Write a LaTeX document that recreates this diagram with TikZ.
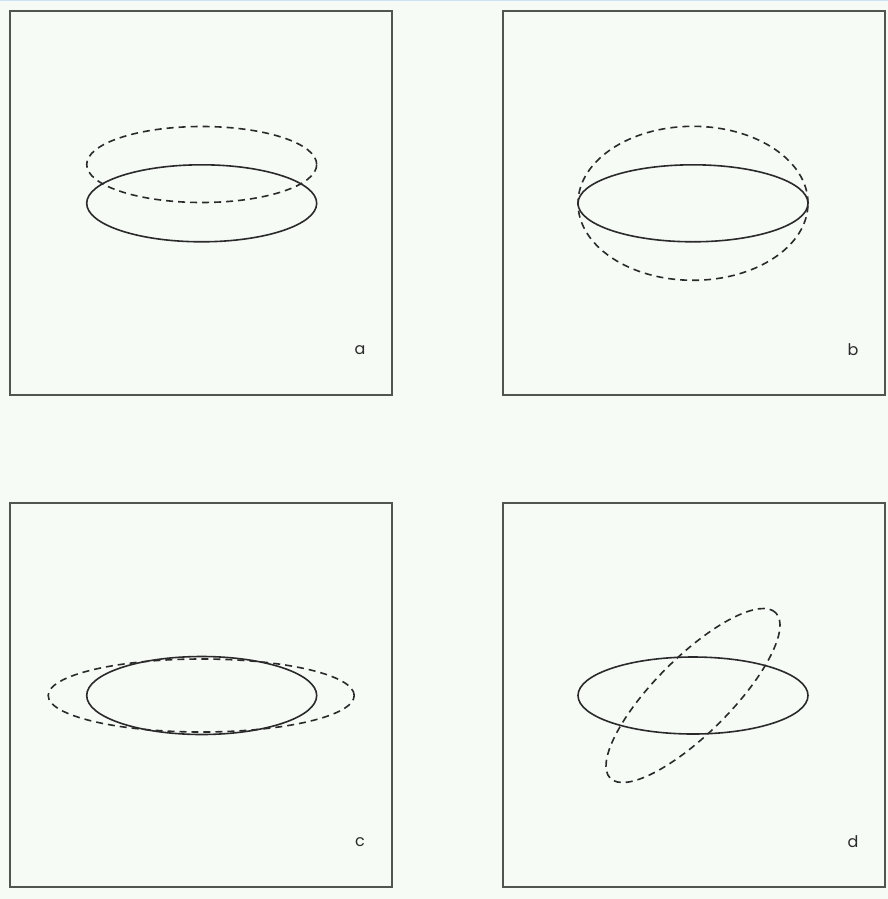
\documentclass[tikz,border=0pt]{standalone}
\usepackage{fontspec}
\newfontfamily\labfont{Poppins}
\definecolor{bg}{HTML}{F6FBF6}
\definecolor{frame}{HTML}{505550}
\definecolor{curve}{HTML}{2A2A2A}
\definecolor{topline}{HTML}{CFE3F5}
\begin{document}
\begin{tikzpicture}[x=1pt,y=-1pt,
  panel/.style={draw=frame,line width=1.8pt},
  solidcurve/.style={draw=curve,line width=1.6pt},
  dashcurve/.style={draw=curve,line width=1.6pt,dash pattern=on 7pt off 5pt},
  lab/.style={font=\labfont\fontsize{16}{16}\selectfont,text=curve,inner sep=0pt}]
\useasboundingbox (0,0) rectangle (888,899);
\fill[bg] (0,0) rectangle (888,899);
\fill[topline] (0,0) rectangle (888,1.5);
% panels
\draw[panel] (10,11) rectangle (392,395);
\draw[panel] (503,11) rectangle (885,395);
\draw[panel] (10,503) rectangle (392,887);
\draw[panel] (503,503) rectangle (885,887);
% a
\draw[solidcurve] (201.7,203.3) ellipse [x radius=115pt, y radius=38.5pt];
\draw[dashcurve] (201.7,164.5) ellipse [x radius=115pt, y radius=38pt];
% b
\draw[solidcurve] (693,203.3) ellipse [x radius=115pt, y radius=38.5pt];
\draw[dashcurve] (693,203.3) ellipse [x radius=115pt, y radius=77pt];
% c
\draw[solidcurve] (201.7,695.5) ellipse [x radius=115pt, y radius=39pt];
\draw[dashcurve] (201.2,695.5) ellipse [x radius=153pt, y radius=36.5pt];
% d
\draw[solidcurve] (693,695.5) ellipse [x radius=115pt, y radius=38.5pt];
\draw[dashcurve,rotate around={45:(693,695.5)}] (693,695.5) ellipse [x radius=117pt, y radius=38pt];
% labels
\node[lab] (la) at (360,350) {a};
\node[lab] (lb) at (853,350) {b};
\node[lab] (lc) at (360,842) {c};
\node[lab] (ld) at (853,842) {d};
\end{tikzpicture}
\end{document}
